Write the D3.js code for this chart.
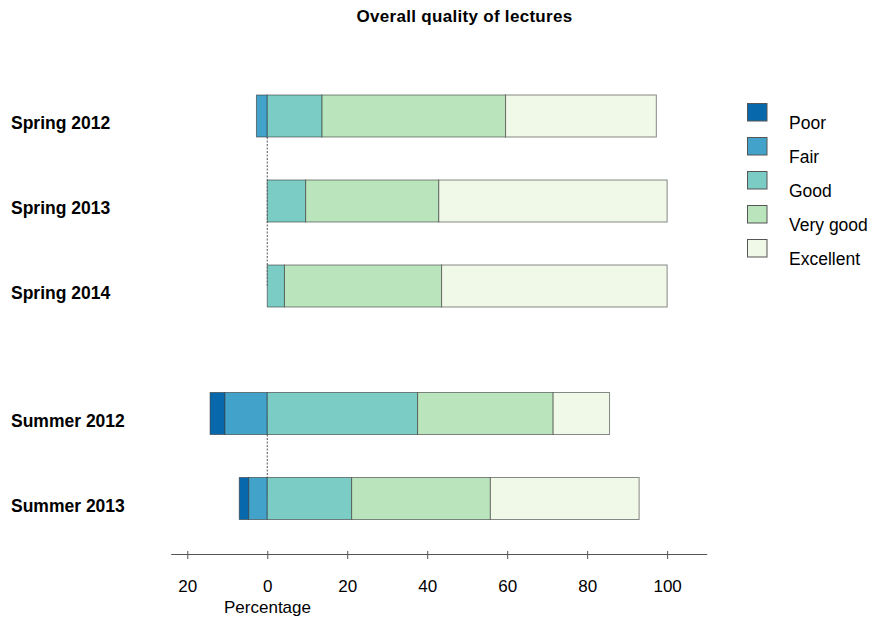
<!DOCTYPE html>
<html>
<head>
<meta charset="utf-8">
<script src="https://cdn.jsdelivr.net/npm/d3@7"></script>
<style>
html,body{margin:0;padding:0;background:#fff;}
svg{display:block;font-family:"Liberation Sans",Arial,Helvetica,sans-serif;}
</style>
</head>
<body>
<svg id="chart" width="872" height="622"></svg>
<script>
// ---- data ----
const periods = ["Spring 2012", "Spring 2013", "Spring 2014", "Summer 2012", "Summer 2013"];
const groups = ["Spring", "Spring", "Spring", "Summer", "Summer"];
const levels = ["Poor", "Fair", "Good", "Very good", "Excellent"];
const poor     = [0,    0,    0,    3.7,  2.35];
const fair     = [2.7,  0,    0,    10.6, 4.65];
const good     = [13.7, 9.6,  4.3,  37.6, 21.1];
const veryGood = [45.9, 33.3, 39.3, 33.9, 34.7];
const excellent= [37.7, 57.1, 56.4, 14.1, 37.2];
const tickValues = [-20, 0, 20, 40, 60, 80, 100];
const colors = ["#0868ac", "#43a2ca", "#7bccc4", "#bae4bc", "#f0f9e8"];
const title = "Overall quality of lectures";
const xTitle = "Percentage";

// ---- layout ----
const svg = d3.select("#chart");
const x = d3.scaleLinear().domain([-24.15, 109.9]).range([170.7, 706.7]);
// row positions with half-row gap between groups
const rowPos = [];
let pos = 0;
periods.forEach((p, i) => {
  if (i > 0 && groups[i] !== groups[i - 1]) pos += 0.5;
  rowPos.push(pos);
  pos += 1;
});
const y = d3.scaleLinear().domain([0, 4.5]).range([116, 498.5]);
const barH = 42;

// title
svg.append("text").attr("x", 464.5).attr("y", 22).attr("text-anchor", "middle")
  .attr("font-size", 17).attr("letter-spacing", 0.3).attr("font-weight", "bold").attr("fill", "#000").text(title);

// dashed reference line per group
const groupNames = Array.from(new Set(groups));
groupNames.forEach(g => {
  const idx = groups.map((d, i) => d === g ? i : -1).filter(i => i >= 0);
  svg.append("line")
    .attr("x1", x(0)).attr("x2", x(0))
    .attr("y1", y(rowPos[idx[0]])).attr("y2", y(rowPos[idx[idx.length - 1]]))
    .attr("stroke", "#555").attr("stroke-width", 1).attr("stroke-dasharray", "2,1.5");
});

// bars
const series = [poor, fair, good, veryGood, excellent];
periods.forEach((p, i) => {
  const neg = poor[i] + fair[i];
  let start = -neg;
  const g = svg.append("g");
  series.forEach((s, k) => {
    const v = s[i];
    if (v <= 0) return;
    g.append("rect")
      .attr("x", x(start)).attr("width", x(start + v) - x(start))
      .attr("y", y(rowPos[i]) - barH / 2).attr("height", barH)
      .attr("fill", colors[k])
      .attr("stroke", "rgba(40,40,40,0.55)").attr("stroke-width", 1);
    start += v;
  });
  svg.append("text").attr("x", 11).attr("y", y(rowPos[i]) + 13)
    .attr("font-size", 17.5).attr("font-weight", "bold").attr("fill", "#000").text(p);
});

// axis
const axis = d3.axisBottom(x).tickValues(tickValues).tickFormat(d => Math.abs(d))
  .tickSize(8).tickSizeOuter(0).tickPadding(18);
const ax = svg.append("g").attr("transform", "translate(0,554)").call(axis);
ax.select(".domain").attr("stroke", "#555");
ax.selectAll(".tick line").attr("stroke", "#555").attr("y1", -3).attr("y2", 5);
ax.selectAll(".tick text").attr("font-size", 17).attr("fill", "#000")
  .attr("font-family", "Liberation Sans, Arial, sans-serif");
svg.append("text").attr("x", 267.5).attr("y", 613).attr("text-anchor", "middle")
  .attr("font-size", 17).attr("fill", "#000").text(xTitle);

// legend
const leg = svg.append("g");
levels.forEach((l, k) => {
  leg.append("rect").attr("x", 747.5).attr("y", 103.5 + k * 34).attr("width", 19.5).attr("height", 17.5)
    .attr("fill", colors[k]).attr("stroke", "#555").attr("stroke-width", 1);
  leg.append("text").attr("x", 789).attr("y", 129 + k * 34)
    .attr("font-size", 17.5).attr("fill", "#000").text(l);
});
</script>
</body>
</html>
